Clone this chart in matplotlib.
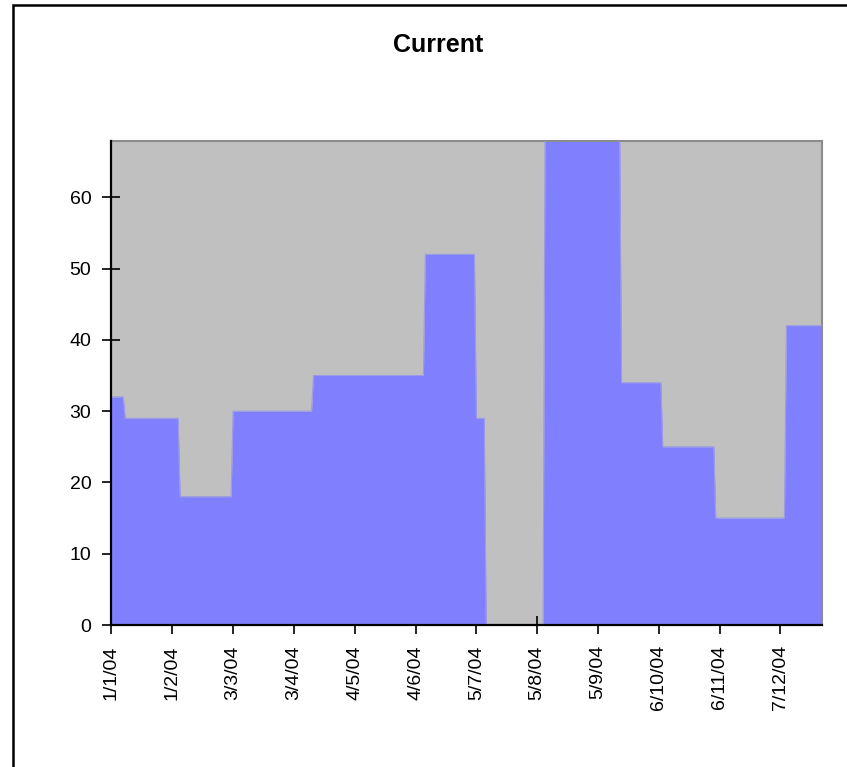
import matplotlib
matplotlib.use("Agg")
import matplotlib.pyplot as plt
import matplotlib.dates as mdates
from matplotlib.patches import Rectangle
import pandas as pd

plt.rcParams['font.family'] = ['Liberation Sans', 'DejaVu Sans']

# Vertices of the "Current" series (daily data, step changes)
dates = ["2004-01-01", "2004-01-07", "2004-01-08", "2004-02-04", "2004-02-05",
         "2004-03-02", "2004-03-03", "2004-04-12", "2004-04-13", "2004-06-08",
         "2004-06-09", "2004-07-04", "2004-07-05", "2004-07-09", "2004-07-10",
         "2004-08-08", "2004-08-09", "2004-09-16", "2004-09-17", "2004-10-07",
         "2004-10-08", "2004-11-03", "2004-11-04", "2004-12-09", "2004-12-10",
         "2004-12-28"]
values = [32, 32, 29, 29, 18,
          18, 30, 30, 35, 35,
          52, 52, 29, 29, 0,
          0, 70, 70, 34, 34,
          25, 25, 15, 15, 42,
          42]

tick_dates = ["2004-01-01", "2004-02-01", "2004-03-03", "2004-04-03", "2004-05-04",
              "2004-06-04", "2004-07-05", "2004-08-05", "2004-09-05", "2004-10-06",
              "2004-11-06", "2004-12-07"]
tick_labels = ["1/1/04", "1/2/04", "3/3/04", "3/4/04", "4/5/04", "4/6/04",
               "5/7/04", "5/8/04", "5/9/04", "6/10/04", "6/11/04", "7/12/04"]
y_ticks = [0, 10, 20, 30, 40, 50, 60]

W, H = 847, 767
fig = plt.figure(figsize=(W / 100, H / 100), dpi=100)
fig.patch.set_facecolor('white')

# outer chart border (left/top visible)
fig.add_artist(Rectangle((13 / W, -0.05), 1.2, (H - 5) / H + 0.05,
                         transform=fig.transFigure, fill=False,
                         edgecolor='black', linewidth=1.8))

ax = fig.add_axes([111.4 / W, (H - 625) / H, (821.7 - 111.4) / W, (625 - 141) / H])
ax.set_facecolor('#C0C0C0')

x = mdates.date2num(pd.to_datetime(dates))
ax.fill_between(x, values, 0, color='#8080FF', linewidth=0, zorder=2)
ax.plot(x, values, color='#9C9CE6', linewidth=0.8, zorder=3)

ax.set_xlim(mdates.date2num(pd.Timestamp(dates[0])), mdates.date2num(pd.Timestamp(dates[-1])))
ax.set_ylim(0, 67.9)

ax.set_xticks(mdates.date2num(pd.to_datetime(tick_dates)))
ax.set_xticklabels(tick_labels, rotation=90, fontsize=14)
ax.set_yticks(y_ticks)
ax.set_yticklabels([str(v) for v in y_ticks], fontsize=14)
ax.tick_params(axis='both', direction='inout', length=13, width=1.2, color='black')
ax.tick_params(axis='y', pad=8)
ax.tick_params(axis='x', pad=8)

for s in ['left', 'bottom']:
    ax.spines[s].set_color('black')
    ax.spines[s].set_linewidth(1.6)
for s in ['top', 'right']:
    ax.spines[s].set_color('#8C8C8C')
    ax.spines[s].set_linewidth(1.5)
ax.spines['left'].set_zorder(5)
ax.spines['bottom'].set_zorder(5)

fig.text(438 / W, 1 - 45 / H, "Current", ha='center', va='center',
         fontsize=18, fontweight='bold')

fig.savefig("out.png", dpi=100)
